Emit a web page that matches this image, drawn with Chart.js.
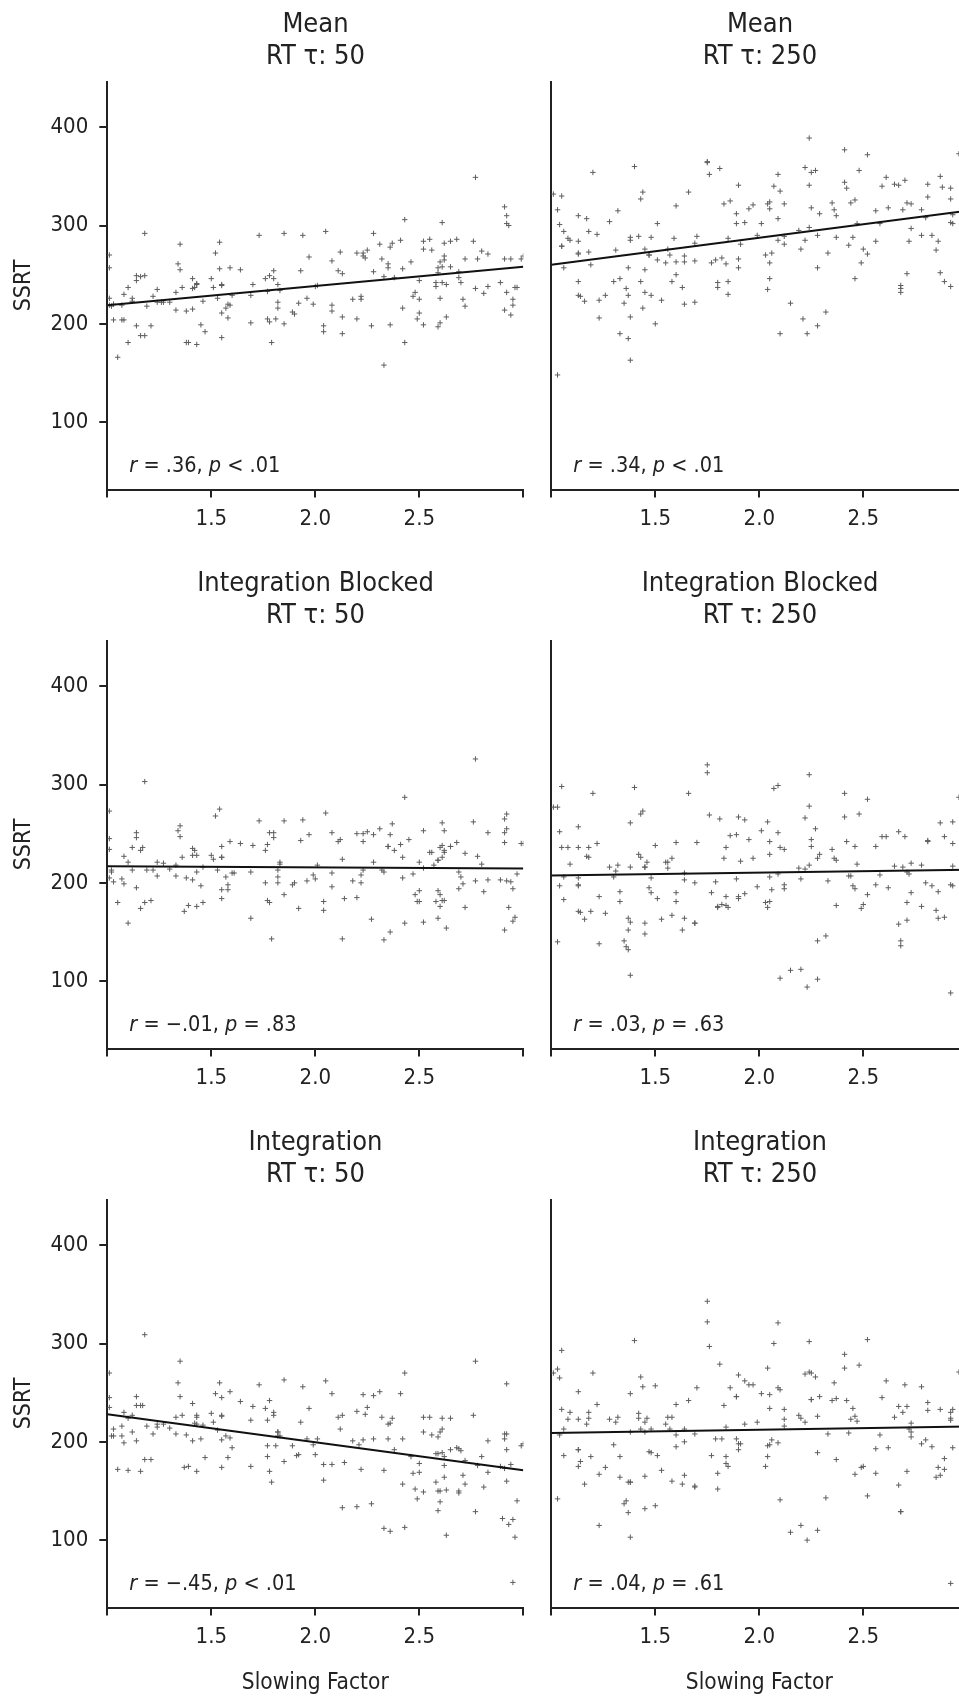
<!DOCTYPE html>
<html>
<head>
<meta charset="utf-8">
<script src="https://cdn.jsdelivr.net/npm/chart.js@4.4.1/dist/chart.umd.min.js"></script>
<style>
  html, body { margin: 0; padding: 0; background: #fff; overflow: hidden; width: 959px; height: 1699px; }
  canvas { position: absolute; }
</style>
</head>
<body>
<canvas id="p0"></canvas>
<canvas id="p1"></canvas>
<canvas id="p2"></canvas>
<canvas id="p3"></canvas>
<canvas id="p4"></canvas>
<canvas id="p5"></canvas>
<script>
// panel titles and stats, in reading order (left/right, top to bottom)
const titleLines = [
  ['Mean', 'RT τ: 50'], ['Mean', 'RT τ: 250'],
  ['Integration Blocked', 'RT τ: 50'], ['Integration Blocked', 'RT τ: 250'],
  ['Integration', 'RT τ: 50'], ['Integration', 'RT τ: 250']
];
const statLabels = [
  'r = .36, p < .01', 'r = .34, p < .01',
  'r = −.01, p = .83', 'r = .03, p = .63',
  'r = −.45, p < .01', 'r = .04, p = .61'
];
const xTicks = [1, 1.5, 2, 2.5, 3];
const yTicks = [100, 200, 300, 400];

// regression line ends at slowing factor 1 and 3
const fitX = [1, 3];
const fitLines = [[219, 258], [260, 315], [217, 214.5], [207.5, 213.3], [228, 171], [209, 215.5]];

// [slowing factor, SSRT]
const meanTau50 = [[1.01,270],[1.01,257],[1.01,226],[1.01,219],[1.02,218],[1.03,220],[1.03,204],[1.05,166],[1.07,204],[1.08,204],[1.07,219],[1.08,230],[1.10,181],[1.10,237],[1.12,226],[1.12,223],[1.14,249],[1.14,244],[1.14,198],[1.16,248],[1.16,188],[1.18,249],[1.18,188],[1.18,292],[1.19,218],[1.21,198],[1.22,228],[1.24,222],[1.24,235],[1.26,222],[1.27,222],[1.30,222],[1.33,214],[1.33,232],[1.34,261],[1.35,255],[1.35,281],[1.36,237],[1.38,181],[1.39,181],[1.38,213],[1.41,215],[1.41,246],[1.41,236],[1.42,237],[1.43,179],[1.43,241],[1.43,240],[1.45,199],[1.46,223],[1.47,192],[1.50,246],[1.51,237],[1.52,272],[1.53,226],[1.54,283],[1.54,256],[1.55,211],[1.55,240],[1.55,239],[1.55,186],[1.57,216],[1.58,220],[1.59,219],[1.58,206],[1.59,257],[1.60,229],[1.64,255],[1.69,201],[1.69,229],[1.70,240],[1.73,290],[1.76,246],[1.77,205],[1.78,202],[1.77,233],[1.78,249],[1.79,181],[1.80,246],[1.80,254],[1.81,205],[1.82,240],[1.82,222],[1.82,216],[1.83,234],[1.85,292],[1.85,200],[1.89,212],[1.90,210],[1.92,221],[1.93,254],[1.94,290],[1.96,226],[1.97,268],[1.99,220],[2.00,238],[2.01,239],[2.04,192],[2.04,198],[2.05,294],[2.08,219],[2.08,213],[2.08,264],[2.11,254],[2.12,273],[2.13,251],[2.13,207],[2.13,190],[2.18,225],[2.20,205],[2.22,225],[2.22,228],[2.20,272],[2.23,269],[2.24,267],[2.25,275],[2.23,272],[2.27,198],[2.28,292],[2.28,253],[2.31,281],[2.32,266],[2.33,248],[2.33,158],[2.35,261],[2.35,257],[2.36,199],[2.36,278],[2.37,282],[2.38,247],[2.41,285],[2.42,256],[2.42,216],[2.43,181],[2.43,306],[2.46,263],[2.47,228],[2.48,232],[2.50,244],[2.49,205],[2.50,211],[2.50,225],[2.52,276],[2.52,284],[2.52,199],[2.55,286],[2.56,275],[2.58,238],[2.58,242],[2.59,252],[2.59,197],[2.59,257],[2.60,201],[2.60,263],[2.61,258],[2.62,269],[2.62,282],[2.62,265],[2.60,226],[2.61,303],[2.61,242],[2.63,240],[2.63,207],[2.65,284],[2.65,258],[2.68,286],[2.69,253],[2.69,247],[2.70,242],[2.71,225],[2.72,218],[2.72,266],[2.76,284],[2.77,349],[2.77,236],[2.78,266],[2.80,274],[2.81,231],[2.83,271],[2.83,238],[2.89,242],[2.91,214],[2.91,266],[2.91,319],[2.92,310],[2.92,302],[2.93,300],[2.92,232],[2.94,209],[2.94,266],[2.95,225],[2.95,219],[2.96,237],[2.97,237],[2.99,266],[3.00,269]];

const meanTau250 = [[1.01,332],[1.03,316],[1.05,330],[1.04,301],[1.06,294],[1.05,279],[1.05,279],[1.08,287],[1.09,285],[1.06,257],[1.03,148],[1.13,243],[1.13,229],[1.14,228],[1.16,223],[1.13,271],[1.13,272],[1.13,284],[1.13,310],[1.17,307],[1.18,273],[1.18,294],[1.19,260],[1.20,354],[1.22,291],[1.23,224],[1.23,206],[1.26,229],[1.28,304],[1.31,275],[1.30,243],[1.33,246],[1.32,315],[1.33,190],[1.35,221],[1.36,236],[1.37,229],[1.37,257],[1.38,288],[1.38,285],[1.37,185],[1.38,207],[1.38,163],[1.40,360],[1.42,289],[1.43,243],[1.43,327],[1.44,334],[1.45,255],[1.45,232],[1.44,216],[1.45,276],[1.47,270],[1.47,270],[1.48,288],[1.48,229],[1.50,200],[1.51,302],[1.51,265],[1.53,224],[1.55,262],[1.56,276],[1.57,270],[1.58,243],[1.60,250],[1.59,287],[1.60,263],[1.60,320],[1.63,237],[1.64,263],[1.64,269],[1.64,220],[1.66,334],[1.69,264],[1.69,222],[1.69,282],[1.70,289],[1.75,365],[1.75,364],[1.76,352],[1.77,262],[1.79,265],[1.80,242],[1.80,237],[1.81,358],[1.83,322],[1.82,267],[1.84,261],[1.85,287],[1.85,230],[1.85,243],[1.86,325],[1.89,302],[1.89,312],[1.90,341],[1.90,266],[1.90,257],[1.91,281],[1.93,303],[1.95,317],[1.97,321],[1.99,290],[2.01,302],[2.03,270],[2.04,235],[2.04,322],[2.05,324],[2.05,317],[2.05,262],[2.05,246],[2.06,272],[2.07,340],[2.09,285],[2.09,352],[2.10,335],[2.09,307],[2.10,190],[2.12,322],[2.12,289],[2.12,281],[2.15,221],[2.19,295],[2.20,276],[2.21,205],[2.22,359],[2.22,285],[2.23,190],[2.24,389],[2.24,341],[2.24,298],[2.25,318],[2.25,354],[2.27,356],[2.28,290],[2.28,257],[2.28,198],[2.29,312],[2.32,212],[2.33,272],[2.35,323],[2.36,316],[2.37,288],[2.37,310],[2.41,377],[2.41,344],[2.42,338],[2.43,280],[2.44,323],[2.46,326],[2.45,288],[2.46,246],[2.47,302],[2.48,356],[2.49,262],[2.50,276],[2.52,271],[2.52,372],[2.56,315],[2.56,284],[2.58,302],[2.59,340],[2.61,349],[2.62,318],[2.65,342],[2.67,341],[2.68,236],[2.68,239],[2.68,232],[2.69,316],[2.70,346],[2.71,323],[2.72,284],[2.73,322],[2.73,297],[2.71,251],[2.78,290],[2.78,316],[2.80,308],[2.81,342],[2.81,329],[2.83,290],[2.85,275],[2.86,284],[2.87,350],[2.87,252],[2.88,339],[2.89,243],[2.92,238],[2.92,338],[2.92,327],[2.92,303],[2.93,302],[2.93,311],[2.96,373]];

const blockedTau50 = [[1.01,273],[1.01,245],[1.01,234],[1.02,213],[1.02,211],[1.01,205],[1.03,201],[1.05,180],[1.07,204],[1.08,199],[1.08,227],[1.10,221],[1.10,159],[1.12,236],[1.12,213],[1.14,251],[1.14,246],[1.14,195],[1.16,174],[1.18,180],[1.21,182],[1.16,233],[1.17,236],[1.18,303],[1.19,213],[1.22,213],[1.24,221],[1.24,207],[1.27,220],[1.30,214],[1.33,218],[1.33,207],[1.34,253],[1.35,258],[1.35,247],[1.36,226],[1.37,171],[1.39,177],[1.38,205],[1.41,203],[1.41,235],[1.42,233],[1.41,228],[1.43,228],[1.43,176],[1.43,211],[1.45,197],[1.46,216],[1.46,180],[1.50,228],[1.51,224],[1.52,268],[1.54,275],[1.53,213],[1.55,237],[1.55,226],[1.55,226],[1.55,193],[1.55,184],[1.57,206],[1.58,193],[1.58,198],[1.59,242],[1.60,210],[1.61,210],[1.64,240],[1.69,164],[1.69,211],[1.70,238],[1.73,263],[1.76,233],[1.77,239],[1.76,200],[1.77,182],[1.78,180],[1.78,251],[1.80,251],[1.80,246],[1.79,143],[1.82,200],[1.82,206],[1.82,213],[1.83,221],[1.83,219],[1.85,263],[1.85,188],[1.89,198],[1.90,200],[1.92,174],[1.93,243],[1.94,264],[1.96,202],[1.97,249],[1.99,208],[2.00,204],[2.01,218],[2.04,172],[2.04,181],[2.05,271],[2.08,196],[2.08,210],[2.08,251],[2.11,242],[2.12,244],[2.13,224],[2.13,143],[2.14,184],[2.18,202],[2.20,185],[2.20,250],[2.23,250],[2.25,252],[2.23,242],[2.28,249],[2.22,208],[2.22,200],[2.23,213],[2.27,163],[2.28,221],[2.31,255],[2.32,213],[2.33,211],[2.33,142],[2.35,237],[2.35,237],[2.36,150],[2.36,249],[2.37,260],[2.38,233],[2.41,239],[2.42,226],[2.42,205],[2.43,159],[2.43,287],[2.45,244],[2.47,209],[2.48,188],[2.50,192],[2.49,181],[2.50,181],[2.50,221],[2.52,215],[2.52,160],[2.52,253],[2.55,231],[2.56,231],[2.57,218],[2.58,181],[2.59,223],[2.59,223],[2.59,192],[2.60,188],[2.60,176],[2.61,182],[2.62,182],[2.59,164],[2.60,236],[2.61,261],[2.61,238],[2.62,253],[2.62,233],[2.62,231],[2.61,226],[2.63,154],[2.65,237],[2.65,237],[2.68,241],[2.69,211],[2.70,206],[2.69,194],[2.71,199],[2.72,230],[2.72,175],[2.76,262],[2.77,326],[2.77,202],[2.78,227],[2.80,219],[2.81,191],[2.83,251],[2.83,203],[2.89,203],[2.91,241],[2.91,152],[2.91,265],[2.92,270],[2.91,251],[2.92,255],[2.92,202],[2.94,201],[2.93,175],[2.95,194],[2.95,161],[2.96,165],[2.97,209],[2.99,240],[3.00,240]];

const blockedTau250 = [[1.01,277],[1.03,277],[1.05,298],[1.04,252],[1.05,236],[1.08,236],[1.06,206],[1.04,197],[1.06,183],[1.03,140],[1.09,219],[1.13,197],[1.13,198],[1.13,236],[1.13,257],[1.13,205],[1.13,171],[1.14,170],[1.16,163],[1.17,227],[1.18,226],[1.18,236],[1.19,171],[1.20,291],[1.22,240],[1.23,186],[1.23,138],[1.26,169],[1.28,216],[1.30,206],[1.31,212],[1.32,218],[1.33,191],[1.33,181],[1.35,141],[1.36,135],[1.37,132],[1.37,164],[1.38,160],[1.37,152],[1.38,261],[1.38,216],[1.38,106],[1.40,297],[1.42,229],[1.43,226],[1.43,270],[1.44,273],[1.45,216],[1.45,216],[1.46,221],[1.45,159],[1.45,148],[1.48,205],[1.47,195],[1.48,190],[1.50,238],[1.51,184],[1.53,163],[1.55,221],[1.56,221],[1.56,215],[1.58,225],[1.58,167],[1.60,190],[1.60,181],[1.60,241],[1.64,210],[1.64,203],[1.64,164],[1.63,152],[1.66,291],[1.69,200],[1.69,159],[1.69,159],[1.70,241],[1.75,320],[1.75,312],[1.76,269],[1.77,190],[1.79,201],[1.80,176],[1.80,175],[1.81,265],[1.83,225],[1.84,186],[1.84,236],[1.82,178],[1.84,177],[1.85,175],[1.86,248],[1.89,249],[1.89,204],[1.90,267],[1.93,264],[1.90,186],[1.90,184],[1.93,189],[1.91,222],[1.95,244],[1.97,225],[1.99,196],[2.01,253],[2.03,180],[2.04,175],[2.05,181],[2.04,262],[2.05,242],[2.05,229],[2.05,206],[2.06,193],[2.07,296],[2.09,299],[2.09,209],[2.09,251],[2.10,236],[2.10,103],[2.12,234],[2.12,198],[2.12,194],[2.15,111],[2.19,215],[2.20,204],[2.20,112],[2.22,266],[2.22,214],[2.23,94],[2.24,278],[2.24,310],[2.24,218],[2.25,244],[2.25,237],[2.27,255],[2.28,141],[2.28,225],[2.29,229],[2.28,102],[2.32,146],[2.33,202],[2.35,234],[2.36,225],[2.37,223],[2.37,177],[2.41,291],[2.41,267],[2.42,242],[2.43,207],[2.44,207],[2.45,197],[2.46,194],[2.46,237],[2.47,219],[2.48,270],[2.49,174],[2.50,178],[2.52,188],[2.52,285],[2.56,237],[2.56,198],[2.58,208],[2.59,247],[2.61,247],[2.62,195],[2.65,217],[2.67,252],[2.67,158],[2.68,141],[2.68,136],[2.69,216],[2.70,247],[2.71,211],[2.72,209],[2.71,180],[2.73,220],[2.71,162],[2.73,190],[2.78,176],[2.78,218],[2.80,200],[2.81,242],[2.81,243],[2.83,197],[2.85,172],[2.86,164],[2.89,165],[2.86,191],[2.87,261],[2.89,247],[2.92,88],[2.92,198],[2.93,197],[2.93,262],[2.93,240],[2.93,217],[2.96,287]];

const integrationTau50 = [[1.01,270],[1.01,245],[1.01,235],[1.03,213],[1.02,206],[1.03,206],[1.05,172],[1.07,206],[1.07,216],[1.08,230],[1.08,199],[1.10,171],[1.10,224],[1.12,227],[1.12,210],[1.14,237],[1.14,246],[1.14,201],[1.16,170],[1.16,237],[1.17,237],[1.18,309],[1.19,216],[1.18,182],[1.21,182],[1.22,208],[1.24,215],[1.24,218],[1.27,218],[1.30,214],[1.33,208],[1.33,225],[1.34,260],[1.35,246],[1.35,282],[1.36,227],[1.37,174],[1.39,175],[1.38,207],[1.41,201],[1.41,239],[1.42,219],[1.43,225],[1.43,227],[1.43,218],[1.43,170],[1.45,203],[1.46,217],[1.47,184],[1.50,229],[1.51,220],[1.52,249],[1.54,260],[1.55,245],[1.53,212],[1.55,226],[1.55,227],[1.55,202],[1.55,174],[1.57,206],[1.59,204],[1.58,184],[1.59,251],[1.60,194],[1.64,241],[1.69,175],[1.69,222],[1.70,236],[1.73,258],[1.76,234],[1.77,222],[1.77,196],[1.77,185],[1.78,170],[1.78,242],[1.80,230],[1.80,227],[1.79,159],[1.81,196],[1.82,206],[1.82,210],[1.82,210],[1.83,206],[1.85,263],[1.85,180],[1.89,196],[1.91,186],[1.92,187],[1.93,220],[1.94,256],[1.96,203],[1.97,234],[1.99,197],[2.01,203],[2.00,187],[2.04,161],[2.04,177],[2.08,177],[2.05,262],[2.08,249],[2.11,225],[2.12,213],[2.13,227],[2.13,133],[2.14,179],[2.18,201],[2.20,134],[2.20,231],[2.21,197],[2.22,172],[2.23,248],[2.24,228],[2.25,235],[2.28,247],[2.23,202],[2.27,137],[2.28,203],[2.31,251],[2.32,225],[2.33,112],[2.36,109],[2.33,171],[2.35,203],[2.35,218],[2.36,219],[2.37,224],[2.38,192],[2.41,249],[2.42,203],[2.42,157],[2.43,113],[2.43,270],[2.46,185],[2.47,168],[2.50,169],[2.48,152],[2.49,142],[2.50,178],[2.52,149],[2.52,210],[2.52,225],[2.55,225],[2.56,207],[2.58,159],[2.58,188],[2.59,188],[2.59,205],[2.60,210],[2.59,130],[2.60,139],[2.59,150],[2.60,150],[2.63,151],[2.61,224],[2.61,213],[2.61,189],[2.62,185],[2.62,176],[2.62,164],[2.63,105],[2.65,224],[2.65,192],[2.68,194],[2.69,193],[2.70,191],[2.69,150],[2.69,148],[2.71,166],[2.72,181],[2.72,157],[2.76,227],[2.77,282],[2.77,129],[2.78,176],[2.80,185],[2.81,154],[2.83,169],[2.83,201],[2.89,175],[2.90,122],[2.91,203],[2.91,208],[2.92,192],[2.92,259],[2.92,160],[2.92,208],[2.93,116],[2.94,177],[2.95,57],[2.95,121],[2.96,103],[2.97,140],[2.99,196],[3.00,198],[2.91,173]];

const integrationTau250 = [[1.01,270],[1.03,274],[1.04,265],[1.05,293],[1.05,233],[1.06,213],[1.04,207],[1.06,186],[1.03,142],[1.09,230],[1.08,223],[1.13,192],[1.13,192],[1.13,223],[1.13,251],[1.13,175],[1.14,180],[1.16,157],[1.17,218],[1.18,224],[1.18,230],[1.19,185],[1.20,270],[1.22,238],[1.23,167],[1.23,115],[1.26,174],[1.28,223],[1.30,197],[1.31,220],[1.32,225],[1.33,164],[1.33,185],[1.35,137],[1.36,140],[1.37,128],[1.37,159],[1.38,159],[1.38,159],[1.38,249],[1.38,210],[1.38,103],[1.40,303],[1.42,224],[1.42,229],[1.43,266],[1.44,256],[1.43,213],[1.45,220],[1.45,210],[1.46,224],[1.45,165],[1.45,132],[1.48,213],[1.47,190],[1.48,189],[1.50,257],[1.51,186],[1.50,135],[1.53,171],[1.55,218],[1.56,225],[1.57,213],[1.58,225],[1.58,160],[1.60,207],[1.60,195],[1.60,238],[1.63,157],[1.64,166],[1.64,213],[1.64,200],[1.66,242],[1.69,208],[1.69,155],[1.69,154],[1.70,255],[1.75,343],[1.75,322],[1.76,297],[1.77,186],[1.79,203],[1.80,152],[1.80,168],[1.81,279],[1.82,203],[1.83,237],[1.84,185],[1.84,215],[1.84,178],[1.85,175],[1.86,255],[1.89,246],[1.89,246],[1.89,203],[1.90,268],[1.90,192],[1.90,198],[1.91,198],[1.93,262],[1.93,218],[1.95,258],[1.97,258],[1.99,220],[2.01,249],[2.03,175],[2.04,185],[2.04,275],[2.04,196],[2.05,197],[2.05,248],[2.05,234],[2.06,202],[2.07,300],[2.09,199],[2.09,321],[2.09,255],[2.10,253],[2.10,141],[2.12,233],[2.12,223],[2.12,216],[2.15,108],[2.19,227],[2.20,224],[2.20,115],[2.22,269],[2.22,220],[2.23,100],[2.24,302],[2.24,271],[2.25,270],[2.27,266],[2.25,243],[2.25,243],[2.28,226],[2.28,189],[2.29,246],[2.28,110],[2.32,143],[2.33,208],[2.35,242],[2.36,260],[2.37,244],[2.37,182],[2.41,289],[2.41,275],[2.42,242],[2.43,209],[2.44,223],[2.45,234],[2.46,167],[2.46,226],[2.47,221],[2.48,278],[2.49,174],[2.50,175],[2.52,145],[2.52,304],[2.56,168],[2.56,193],[2.58,207],[2.59,245],[2.61,262],[2.62,194],[2.65,225],[2.67,156],[2.67,236],[2.69,230],[2.71,236],[2.68,129],[2.68,129],[2.70,258],[2.71,170],[2.72,213],[2.73,205],[2.73,210],[2.73,219],[2.78,198],[2.78,256],[2.80,202],[2.81,240],[2.81,232],[2.83,195],[2.85,164],[2.86,174],[2.87,166],[2.89,172],[2.89,183],[2.87,233],[2.92,56],[2.92,230],[2.92,224],[2.92,222],[2.93,233],[2.93,194],[2.96,271]];

const panelPoints = [meanTau50, meanTau250, blockedTau50, blockedTau250, integrationTau50, integrationTau250];

const FONT = '"Liberation Sans Narrow", "Arial Narrow", "DejaVu Sans Condensed", sans-serif';
const INK = '#222';
Chart.defaults.font.family = FONT;
Chart.defaults.color = INK;

// r / p annotation in the lower left corner, with r and p in italics
const statPlugin = {
  id: 'stat',
  afterDatasetsDraw(chart, args, opts) {
    const { ctx, chartArea } = chart;
    let x = chartArea.left + 22;
    const y = chartArea.bottom - 18;
    ctx.save();
    ctx.fillStyle = INK;
    ctx.textBaseline = 'alphabetic';
    ctx.textAlign = 'left';
    opts.text.split(/([rp])/).forEach(part => {
      if (!part) return;
      const italic = part === 'r' || part === 'p';
      ctx.font = (italic ? 'italic ' : '') + '21.5px ' + FONT;
      ctx.fillText(part, x, y);
      x += ctx.measureText(part).width;
    });
    ctx.restore();
  }
};

function makePanel(i) {
  const col = i % 2, row = Math.floor(i / 2);
  const canvas = document.getElementById('p' + i);
  const width = col === 0 ? 631 : 440;
  const height = row === 2 ? 581 : 559;
  canvas.width = width;
  canvas.height = height;
  canvas.style.left = (col === 0 ? 0 : 540) + 'px';
  canvas.style.top = (row * 559) + 'px';

  // chart area is 416px wide; a blank right axis keeps the title centred on it
  const axisW = col === 0 ? 107.3 : 11.3;
  const padW = width - axisW - 416;
  const axisH = height - 489.5;

  new Chart(canvas, {
    type: 'scatter',
    data: {
      datasets: [
        {
          type: 'line',
          data: fitX.map((x, k) => ({ x: x, y: fitLines[i][k] })),
          borderColor: '#111',
          borderWidth: 2,
          pointRadius: 0,
          fill: false
        },
        {
          data: panelPoints[i].map(p => ({ x: p[0], y: p[1] })),
          pointStyle: 'cross',
          pointRadius: 2.7,
          borderWidth: 1,
          borderColor: '#5e5e5e',
          backgroundColor: '#5e5e5e'
        }
      ]
    },
    options: {
      responsive: false,
      animation: false,
      events: [],
      layout: { padding: 0 },
      plugins: {
        legend: { display: false },
        tooltip: { enabled: false },
        title: {
          display: true,
          text: titleLines[i],
          color: INK,
          font: { size: 27, weight: 'normal', lineHeight: 31.5 / 27 },
          padding: { top: 9.25, bottom: 9.25 }
        },
        stat: { text: statLabels[i] }
      },
      scales: {
        x: {
          type: 'linear',
          min: 1,
          max: 3,
          afterBuildTicks: s => { s.ticks = xTicks.map(v => ({ value: v })); },
          afterFit: s => { s.height = axisH; },
          ticks: {
            autoSkip: false,
            maxRotation: 0,
            padding: 9,
            color: INK,
            font: { size: 22 },
            callback: v => (v > 1 && v < 3) ? v.toFixed(1) : ''
          },
          grid: { drawOnChartArea: false, tickLength: 8, lineWidth: 2, color: INK },
          border: { color: INK, width: 2 },
          title: {
            display: row === 2,
            text: 'Slowing Factor',
            color: INK,
            font: { size: 22.5 },
            padding: { top: 0, bottom: 2 }
          }
        },
        y: {
          type: 'linear',
          min: 31.5,
          max: 446.5,
          afterBuildTicks: s => { s.ticks = yTicks.map(v => ({ value: v })); },
          afterFit: s => { s.width = axisW; },
          ticks: {
            display: col === 0,
            padding: 11,
            color: INK,
            font: { size: 22 }
          },
          grid: { display: col === 0, drawOnChartArea: false, tickLength: 8, lineWidth: 2, color: INK },
          border: { color: INK, width: 2 },
          title: {
            display: col === 0,
            text: 'SSRT',
            color: INK,
            font: { size: 23 },
            padding: { top: 10.5, bottom: 0 }
          }
        },
        pad: {
          type: 'linear',
          position: 'right',
          display: true,
          ticks: { display: false },
          grid: { display: false },
          border: { display: false },
          afterFit: s => { s.width = padW; }
        }
      }
    },
    plugins: [statPlugin]
  });
}

for (let i = 0; i < 6; i++) makePanel(i);
</script>
</body>
</html>
